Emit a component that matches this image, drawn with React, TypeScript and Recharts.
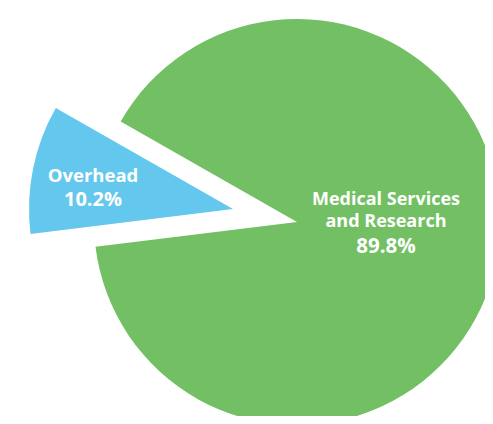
import React from 'react';
import { PieChart, Pie, Cell } from 'recharts';

const categories = ['Overhead', 'Medical Services and Research'];
const values = [10.2, 89.8];
const nameLines = [['Overhead'], ['Medical Services', 'and Research']];
const percentLabels = ['10.2%', '89.8%'];
const colors = ['#64C8EE', '#73BF64'];

const data = categories.map((name, i) => ({ name, value: values[i] }));

const FONT = '"Open Sans", "DejaVu Sans", sans-serif';

const renderLabel = (visibleIndex: number) => (props: any) => {
  const { cx, cy, index } = props;
  if (index !== visibleIndex) return null;
  const lines = nameLines[index];
  if (index === 0) {
    const x = cx - 140;
    return (
      <g>
        <text x={x} y={cy - 27} fill="#fff" textAnchor="middle" fontFamily={FONT} fontWeight={700} fontSize={18.5}>
          {lines[0]}
        </text>
        <text x={x} y={cy - 3} fill="#fff" textAnchor="middle" fontFamily={FONT} fontWeight={700} fontSize={20}>
          {percentLabels[index]}
        </text>
      </g>
    );
  }
  const x = cx + 89;
  return (
    <g>
      <text x={x} y={cy - 17} fill="#fff" textAnchor="middle" fontFamily={FONT} fontWeight={700} fontSize={18}>
        {lines[0]}
      </text>
      <text x={x} y={cy + 5} fill="#fff" textAnchor="middle" fontFamily={FONT} fontWeight={700} fontSize={18}>
        {lines[1]}
      </text>
      <text x={x} y={cy + 31} fill="#fff" textAnchor="middle" fontFamily={FONT} fontWeight={700} fontSize={20.5}>
        {percentLabels[index]}
      </text>
    </g>
  );
};

export default function App() {
  return (
    <div style={{ width: 485, height: 416, marginBottom: -8 }}>
      <PieChart width={485} height={416}>
        <Pie
          data={data}
          dataKey="value"
          nameKey="name"
          cx={284}
          cy={209}
          outerRadius={203}
          startAngle={150.3}
          endAngle={510.3}
          stroke="none"
          labelLine={false}
          label={renderLabel(1)}
          isAnimationActive={false}
        >
          {data.map((d, i) => (
            <Cell key={d.name} fill={i === 1 ? colors[i] : 'transparent'} />
          ))}
        </Pie>
        <Pie
          data={data}
          dataKey="value"
          nameKey="name"
          cx={220}
          cy={196}
          outerRadius={204}
          startAngle={150.3}
          endAngle={510.3}
          stroke="none"
          labelLine={false}
          label={renderLabel(0)}
          isAnimationActive={false}
        >
          {data.map((d, i) => (
            <Cell key={d.name} fill={i === 0 ? colors[i] : 'transparent'} />
          ))}
        </Pie>
      </PieChart>
    </div>
  );
}
